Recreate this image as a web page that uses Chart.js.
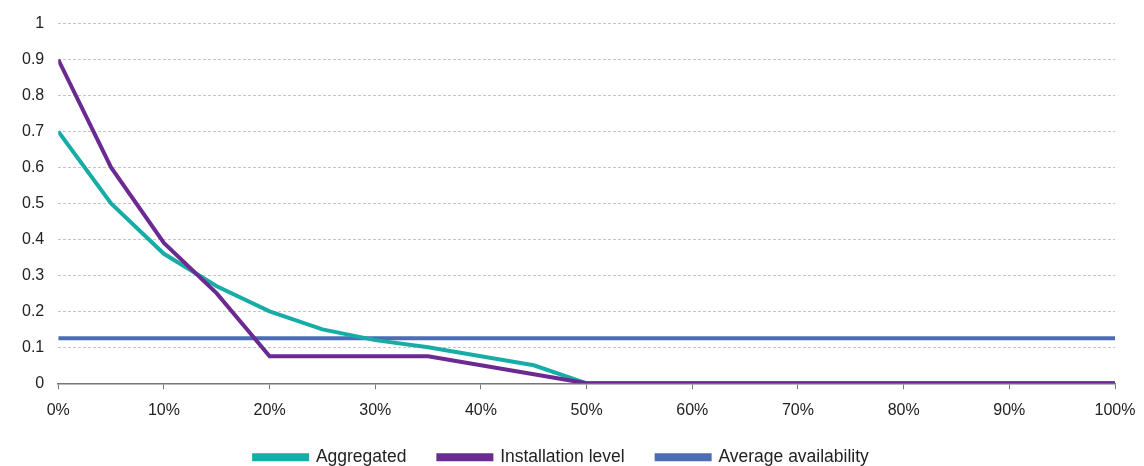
<!DOCTYPE html>
<html>
<head>
<meta charset="utf-8">
<script src="https://cdn.jsdelivr.net/npm/chart.js@4.4.0/dist/chart.umd.min.js"></script>
<style>
  html, body { margin: 0; padding: 0; background: #fff; }
  #wrap { width: 1144px; height: 466px; }
</style>
</head>
<body>
<div id="wrap"><canvas id="availChart" width="1144" height="466"></canvas></div>
<script>
// share of installations (%)
const shareLevels = [0, 5, 10, 15, 20, 25, 30, 35, 40, 45, 50, 55, 60, 65, 70, 75, 80, 85, 90, 95, 100];
const aggregated = [0.70, 0.50, 0.36, 0.27, 0.20, 0.15, 0.12, 0.10, 0.075, 0.05, 0, 0, 0, 0, 0, 0, 0, 0, 0, 0, 0];
const installationLevel = [0.90, 0.60, 0.39, 0.25, 0.075, 0.075, 0.075, 0.075, 0.05, 0.025, 0, 0, 0, 0, 0, 0, 0, 0, 0, 0, 0];
const averageAvailability = 0.125;
const yTickLabels = ['0', '0.1', '0.2', '0.3', '0.4', '0.5', '0.6', '0.7', '0.8', '0.9', '1'];

function toPoints(values) {
    return shareLevels.map((x, i) => ({ x: x, y: values[i] }));
}

const ctx = document.getElementById('availChart').getContext('2d');
new Chart(ctx, {
    type: 'line',
    data: {
        datasets: [
            {
                label: 'Aggregated',
                data: toPoints(aggregated),
                borderColor: '#17ADA6',
                backgroundColor: '#17ADA6',
                borderWidth: 4,
                pointRadius: 0,
                order: 2
            },
            {
                label: 'Installation level',
                data: toPoints(installationLevel),
                borderColor: '#6B2A92',
                backgroundColor: '#6B2A92',
                borderWidth: 4,
                pointRadius: 0,
                order: 1
            },
            {
                label: 'Average availability',
                data: [
                    { x: shareLevels[0], y: averageAvailability },
                    { x: shareLevels[shareLevels.length - 1], y: averageAvailability }
                ],
                borderColor: '#4A6DB4',
                backgroundColor: '#4A6DB4',
                borderWidth: 4,
                pointRadius: 0,
                order: 3
            }
        ]
    },
    options: {
        responsive: false,
        animation: false,
        layout: { padding: { left: 8, right: 29, top: 12, bottom: -10 } },
        scales: {
            x: {
                type: 'linear',
                min: 0,
                max: 100,
                ticks: {
                    stepSize: 10,
                    color: '#222',
                    font: { family: 'Liberation Sans', size: 16 },
                    padding: 12,
                    maxRotation: 0,
                    callback: v => v + '%'
                },
                grid: { drawOnChartArea: false, drawTicks: true, tickLength: 6, color: '#777' },
                border: { display: true, color: '#777', width: 1.5 },
                // let the legend's top padding overlap the empty space under the labels
                afterFit: scale => {
                    scale.height -= 16;
                    scale.paddingRight = 0;
                }
            },
            y: {
                min: 0,
                max: 1,
                ticks: {
                    stepSize: 0.1,
                    color: '#222',
                    font: { family: 'Liberation Sans', size: 16 },
                    padding: 14,
                    callback: (v, i) => yTickLabels[i]
                },
                grid: { color: '#c4c4c4', drawTicks: false, lineWidth: 1 },
                border: { display: false, dash: [3, 2] }
            }
        },
        plugins: {
            legend: {
                position: 'bottom',
                labels: {
                    boxWidth: 53,
                    boxHeight: 4,
                    padding: 32,
                    color: '#222',
                    font: { family: 'Liberation Sans', size: 17.5 },
                    sort: (a, b) => a.datasetIndex - b.datasetIndex
                }
            },
            tooltip: { enabled: false }
        }
    }
});
</script>
</body>
</html>
